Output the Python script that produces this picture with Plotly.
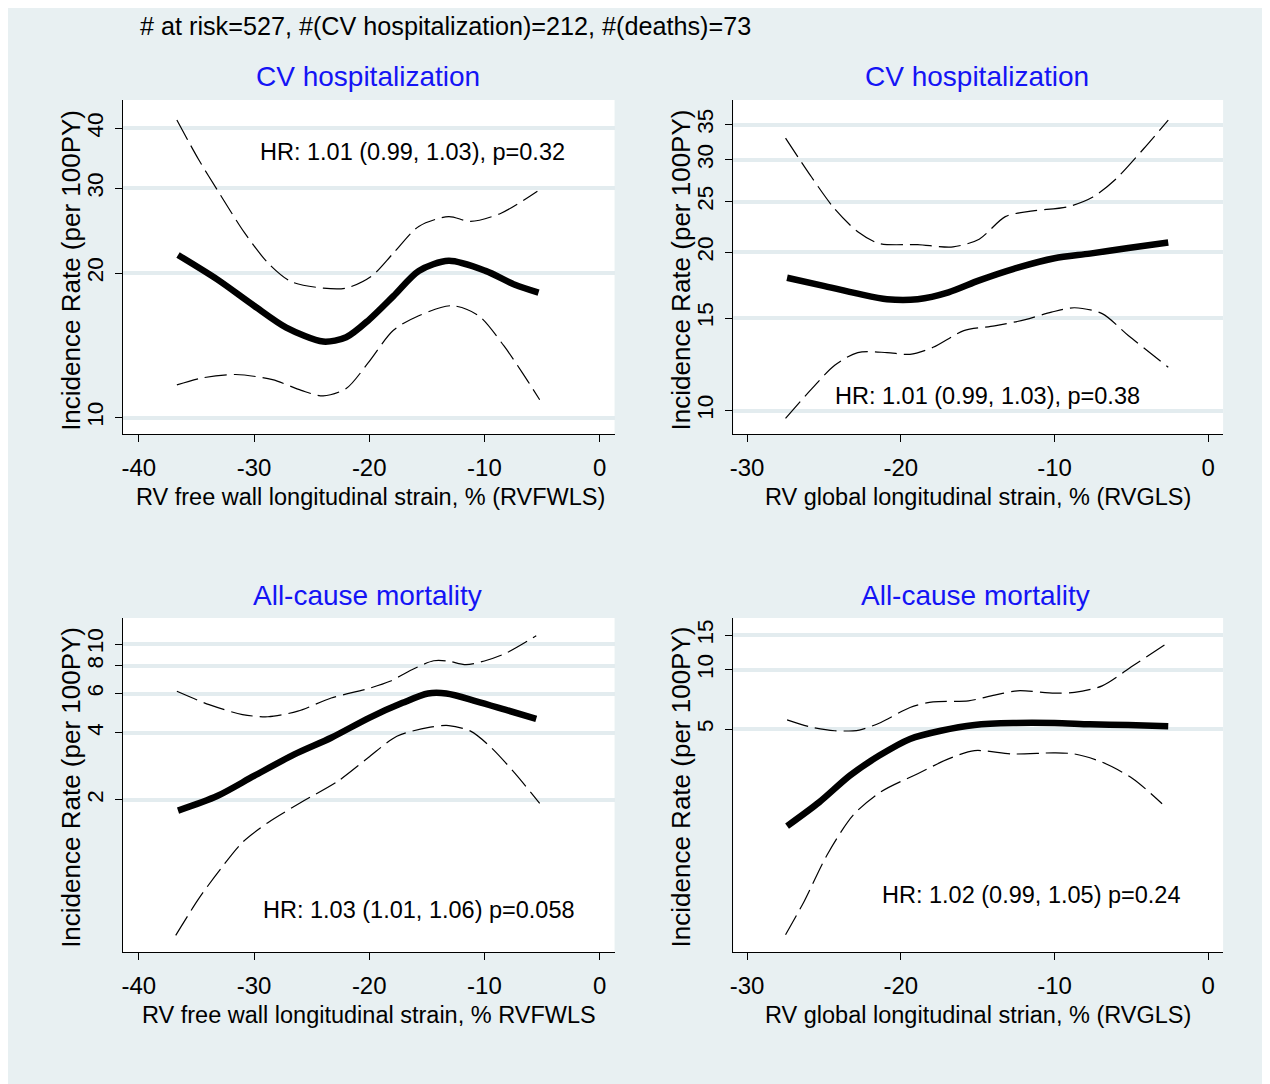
import plotly.graph_objects as go
import numpy as np

# ---------------- data ----------------
# Panel 1: RVFWLS vs CV hospitalization
p1_est_x = [-36.6, -33.2, -30, -27.2, -24, -22, -20, -17.9, -15.7, -13.1, -9.9, -7.35, -5.3]
p1_est_y = [21.8, 19.4, 17.1, 15.4, 14.4, 14.7, 16.0, 17.9, 20.2, 21.2, 20.2, 18.9, 18.2]
p1_hi_x = [-36.7, -34.8, -33.2, -30.8, -28.8, -26.8, -24, -22, -19.8, -17.9, -15.7, -13.1, -11.2, -8.6, -5.4]
p1_hi_y = [41.6, 34.4, 29.8, 24.2, 21.0, 19.2, 18.6, 18.6, 19.7, 22.0, 25.0, 26.2, 25.6, 26.6, 29.6]
p1_lo_x = [-36.7, -34.5, -31.6, -28.4, -25.9, -24, -22, -20.1, -17.9, -15.7, -12.8, -10.5, -8.3, -6.7, -5.2]
p1_lo_y = [11.7, 12.1, 12.3, 12.0, 11.4, 11.1, 11.5, 13.0, 15.2, 16.3, 17.1, 16.3, 14.1, 12.4, 10.9]

# Panel 2: RVGLS vs CV hospitalization
p2_est_x = [-27.4, -25.1, -22.8, -20.9, -18.9, -16.9, -14.9, -12.7, -10, -7.7, -5.2, -2.6]
p2_est_y = [17.9, 17.3, 16.7, 16.3, 16.3, 16.8, 17.7, 18.6, 19.5, 19.9, 20.4, 20.9]
p2_hi_x = [-27.5, -25.8, -24.3, -22.8, -21.4, -18.9, -16.6, -14.9, -13.2, -11.4, -9.2, -7.5, -6.0, -4.2, -2.6]
p2_hi_y = [33.0, 27.8, 24.2, 21.9, 20.8, 20.7, 20.5, 21.2, 23.4, 24.0, 24.4, 25.5, 27.6, 31.5, 35.7]
p2_lo_x = [-27.5, -25.8, -24.3, -22.8, -20.9, -19.4, -17.9, -15.9, -13.9, -11.9, -10.2, -8.7, -6.9, -5.2, -2.6]
p2_lo_y = [9.67, 11.0, 12.2, 12.9, 12.9, 12.8, 13.2, 14.2, 14.5, 14.9, 15.4, 15.7, 15.3, 13.9, 12.1]

# Panel 3: RVFWLS vs all-cause mortality
p3_est_x = [-36.6, -33.2, -30, -26.5, -23.3, -20, -17.1, -14.9, -13.3, -10.7, -8.2, -5.5]
p3_est_y = [1.79, 2.08, 2.56, 3.20, 3.80, 4.67, 5.45, 6.0, 6.0, 5.54, 5.08, 4.62]
p3_hi_x = [-36.7, -33.9, -31, -28.8, -26.2, -23.3, -20.2, -18.2, -16.3, -14.4, -13.2, -11.6, -10, -8.1, -5.5]
p3_hi_y = [6.14, 5.35, 4.83, 4.72, 5.0, 5.73, 6.29, 6.81, 7.68, 8.42, 8.4, 8.09, 8.4, 9.12, 10.9]
p3_lo_x = [-36.8, -34.8, -32.9, -31, -28.8, -25.9, -22.7, -20.1, -17.6, -14.7, -13.1, -11.2, -9.4, -7.4, -5.2]
p3_lo_y = [0.493, 0.72, 0.98, 1.29, 1.58, 1.95, 2.43, 3.09, 3.86, 4.24, 4.31, 4.07, 3.43, 2.65, 1.93]

# Panel 4: RVGLS vs all-cause mortality
p4_est_x = [-27.4, -25.3, -23.3, -21.4, -19.4, -17.4, -15.2, -12.7, -10, -7.7, -5.2, -2.6]
p4_est_y = [1.60, 2.12, 2.90, 3.66, 4.45, 4.90, 5.24, 5.36, 5.36, 5.28, 5.24, 5.16]
p4_hi_x = [-27.4, -25.8, -24.3, -22.7, -21.3, -19.4, -17.9, -15.6, -13.9, -12.4, -10, -8.7, -6.9, -4.9, -2.6]
p4_hi_y = [5.57, 5.1, 4.90, 4.94, 5.40, 6.44, 6.88, 6.96, 7.44, 7.83, 7.62, 7.68, 8.30, 10.5, 13.8]
p4_lo_x = [-27.5, -26.3, -24.8, -23.1, -21.3, -18.9, -16.9, -15.2, -12.7, -10, -8.7, -6.9, -4.9, -3.0]
p4_lo_y = [0.447, 0.659, 1.14, 1.82, 2.39, 2.96, 3.52, 3.88, 3.73, 3.78, 3.73, 3.39, 2.79, 2.08]

x_ticks_fwls = [-40, -30, -20, -10, 0]
x_ticks_gls = [-30, -20, -10, 0]
y_ticks_p1 = [10, 20, 30, 40]
y_ticks_p2 = [10, 15, 20, 25, 30, 35]
y_ticks_p3 = [2, 4, 6, 8, 10]
y_ticks_p4 = [5, 10, 15]

top_text = "# at risk=527, #(CV hospitalization)=212, #(deaths)=73"
titles = ["CV hospitalization", "CV hospitalization", "All-cause mortality", "All-cause mortality"]
hr_texts = ["HR: 1.01 (0.99, 1.03), p=0.32", "HR: 1.01 (0.99, 1.03), p=0.38",
            "HR: 1.03 (1.01, 1.06) p=0.058", "HR: 1.02 (0.99, 1.05) p=0.24"]
x_titles = ["RV free wall longitudinal strain, % (RVFWLS)", "RV global longitudinal strain, % (RVGLS)",
            "RV free wall longitudinal strain, % RVFWLS", "RV global longitudinal strian, % (RVGLS)"]
y_title = "Incidence Rate (per 100PY)"

# ---------------- layout helpers ----------------
OFF = 8                      # page body margin
W, H = 1270 - OFF, 1084 - OFF
BG = "#e8f0f2"
GRID = "#e3ecef"
FONT = "Liberation Sans, Arial, Helvetica, sans-serif"

def px(x):
    return (x - OFF) / W

def py(y):
    return 1 - (y - OFF) / H

panels = [
    dict(est=(p1_est_x, p1_est_y), hi=(p1_hi_x, p1_hi_y), lo=(p1_lo_x, p1_lo_y),
         dom_x=(120, 613), dom_y=(100, 434), xr=[-41.4, 1.3], yr=[np.log10(9.25), np.log10(45.8)],
         xt=x_ticks_fwls, yt=y_ticks_p1),
    dict(est=(p2_est_x, p2_est_y), hi=(p2_hi_x, p2_hi_y), lo=(p2_lo_x, p2_lo_y),
         dom_x=(732, 1223), dom_y=(100, 434), xr=[-30.9, 0.97], yr=[np.log10(9.03), np.log10(39.0)],
         xt=x_ticks_gls, yt=y_ticks_p2),
    dict(est=(p3_est_x, p3_est_y), hi=(p3_hi_x, p3_hi_y), lo=(p3_lo_x, p3_lo_y),
         dom_x=(120, 613), dom_y=(618, 952), xr=[-41.4, 1.3], yr=[np.log10(0.415), np.log10(13.1)],
         xt=x_ticks_fwls, yt=y_ticks_p3),
    dict(est=(p4_est_x, p4_est_y), hi=(p4_hi_x, p4_hi_y), lo=(p4_lo_x, p4_lo_y),
         dom_x=(732, 1223), dom_y=(618, 952), xr=[-30.9, 0.97], yr=[np.log10(0.365), np.log10(18.4)],
         xt=x_ticks_gls, yt=y_ticks_p4),
]

title_pos = [(366, 77), (976, 77), (365, 595), (975, 595)]
hr_pos = [(410, 152), (987, 396), (417, 910), (1031, 895)]
ytitle_pos = [(68, 270), (680, 270), (68, 787), (680, 787)]
xtitle_pos = [(368, 497), (977, 497), (367, 1015), (977, 1015)]

fig = go.Figure()
layout = dict(
    width=W, height=H, margin=dict(l=0, r=0, t=0, b=0),
    paper_bgcolor=BG, plot_bgcolor="white", showlegend=False,
    annotations=[], shapes=[],
)

for i, p in enumerate(panels, start=1):
    xa = "x" if i == 1 else f"x{i}"
    ya = "y" if i == 1 else f"y{i}"
    for key in ("hi", "lo", "est"):
        xs, ys = p[key]
        if key == "est":
            line = dict(color="black", width=6.5, shape="spline", smoothing=0.8)
        else:
            line = dict(color="black", width=1.2, dash="22px,7px", shape="spline", smoothing=0.8)
        fig.add_trace(go.Scatter(x=xs, y=ys, mode="lines", line=line, xaxis=xa, yaxis=ya,
                                 hoverinfo="skip"))
    xkey = "xaxis" if i == 1 else f"xaxis{i}"
    ykey = "yaxis" if i == 1 else f"yaxis{i}"
    layout[xkey] = dict(
        domain=[px(p["dom_x"][0]), px(p["dom_x"][1])], anchor=ya, range=p["xr"],
        tickvals=p["xt"], ticktext=[str(v) for v in p["xt"]],
        ticks="outside", ticklen=7, tickwidth=1.3, tickcolor="black",
        showline=True, linecolor="black", linewidth=1.3, showgrid=False, zeroline=False,
        tickfont=dict(family=FONT, size=24, color="black"), ticklabelstandoff=5,
    )
    layout[ykey] = dict(
        domain=[py(p["dom_y"][1]), py(p["dom_y"][0])], anchor=xa, type="log", range=p["yr"],
        tickvals=p["yt"], ticktext=[str(v) for v in p["yt"]], tickangle=-90,
        ticks="outside", ticklen=7, tickwidth=1.3, tickcolor="black",
        showline=True, linecolor="black", linewidth=1.3, showgrid=True,
        gridcolor=GRID, gridwidth=3.5, zeroline=False,
        tickfont=dict(family=FONT, size=22.5, color="black"), ticklabelstandoff=3,
    )
    tx, ty = title_pos[i - 1]
    layout["annotations"].append(dict(text=titles[i - 1], x=px(tx), y=py(ty), xref="paper", yref="paper",
                                      showarrow=False, xanchor="center", yanchor="middle",
                                      font=dict(family=FONT, size=28, color="#1414f5")))
    hx, hy = hr_pos[i - 1]
    layout["annotations"].append(dict(text=hr_texts[i - 1], x=px(hx), y=py(hy), xref="paper", yref="paper",
                                      showarrow=False, xanchor="center", yanchor="middle",
                                      font=dict(family=FONT, size=23.5, color="black")))
    yx, yy = ytitle_pos[i - 1]
    layout["annotations"].append(dict(text=y_title, x=px(yx), y=py(yy), xref="paper", yref="paper",
                                      showarrow=False, xanchor="center", yanchor="middle", textangle=-90,
                                      font=dict(family=FONT, size=26, color="black")))
    xx, xy = xtitle_pos[i - 1]
    layout["annotations"].append(dict(text=x_titles[i - 1], x=px(xx), y=py(xy), xref="paper", yref="paper",
                                      showarrow=False, xanchor="center", yanchor="middle",
                                      font=dict(family=FONT, size=23.5, color="black")))

layout["annotations"].append(dict(text=top_text, x=px(135), y=py(26), xref="paper", yref="paper",
                                  showarrow=False, xanchor="left", yanchor="middle",
                                  font=dict(family=FONT, size=25.2, color="black")))

# thin white strip at the right edge of the figure
layout["shapes"].append(dict(type="rect", xref="paper", yref="paper",
                             x0=px(1267), x1=1, y0=0, y1=1,
                             fillcolor="white", line=dict(width=0), layer="above"))

fig.update_layout(**layout)
fig.write_html("out.html")
